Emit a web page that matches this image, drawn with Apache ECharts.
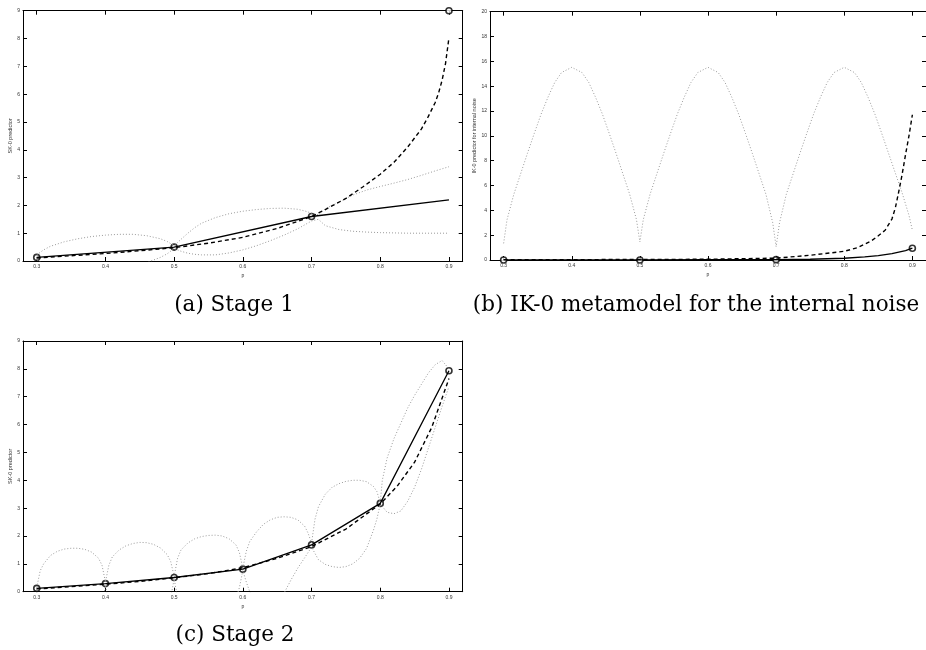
<!DOCTYPE html>
<html>
<head>
<meta charset="utf-8">
<script src="https://cdn.jsdelivr.net/npm/echarts@6/dist/echarts.min.js"></script>
<style>
    html, body { margin: 0; padding: 0; background: #fff; }
    #chart { width: 926px; height: 650px; }
</style>
</head>
<body>
<div id="chart"></div>
<script>
// tick positions shared by all panels
const xTicks = [0.3, 0.4, 0.5, 0.6, 0.7, 0.8, 0.9]

// (a) Stage 1
const xA_pts = [0.3, 0.5, 0.7, 0.9]
const yA_pts = [0.13, 0.5, 1.6, 9.0]
const xA_solid = [0.3, 0.5, 0.7, 0.9]
const yA_solid = [0.13, 0.5, 1.6, 2.2]
const xA_dash = [0.3, 0.35, 0.4, 0.45, 0.5, 0.55, 0.6, 0.65, 0.7, 0.72, 0.75, 0.775, 0.8, 0.82, 0.84, 0.86, 0.87, 0.88, 0.885, 0.89, 0.895, 0.9]
const yA_dash = [0.11, 0.19, 0.27, 0.37, 0.48, 0.64, 0.85, 1.17, 1.6, 1.85, 2.25, 2.67, 3.12, 3.55, 4.1, 4.75, 5.2, 5.7, 6.05, 6.5, 7.1, 8.03]
const xA_band = [0.3, 0.31, 0.32, 0.34, 0.36, 0.38, 0.4, 0.42, 0.44, 0.46, 0.48, 0.49, 0.5, 0.51, 0.52, 0.53, 0.54, 0.56, 0.58, 0.6, 0.62, 0.64, 0.66, 0.68, 0.69, 0.7, 0.71, 0.72, 0.74, 0.76, 0.78, 0.8, 0.82, 0.84, 0.86, 0.88, 0.9]
const yA_upper = [0.22, 0.4, 0.53, 0.69, 0.8, 0.88, 0.93, 0.96, 0.96, 0.91, 0.8, 0.7, 0.55, 0.78, 1.0, 1.2, 1.36, 1.56, 1.7, 1.79, 1.85, 1.89, 1.9, 1.86, 1.8, 1.72, 1.66, 1.88, 2.12, 2.37, 2.55, 2.68, 2.8, 2.93, 3.08, 3.24, 3.39]
const yA_lower = [0.04, -0.08, -0.17, -0.27, -0.32, -0.32, -0.3, -0.26, -0.18, -0.06, 0.13, 0.26, 0.45, 0.35, 0.28, 0.24, 0.22, 0.22, 0.29, 0.4, 0.55, 0.73, 0.93, 1.16, 1.3, 1.44, 1.5, 1.27, 1.13, 1.07, 1.04, 1.02, 1.01, 1.0, 1.0, 1.0, 1.0]

// (b) IK-0 metamodel for the internal noise
const xB_pts = [0.3, 0.5, 0.7, 0.9]
const yB_pts = [0.0, 0.0, 0.03, 0.95]
const xB_solid = [0.3, 0.4, 0.5, 0.6, 0.7, 0.75, 0.8, 0.83, 0.85, 0.87, 0.89, 0.9]
const yB_solid = [0.01, 0.01, 0.01, 0.02, 0.03, 0.06, 0.14, 0.25, 0.36, 0.52, 0.76, 0.95]
const xB_dash = [0.3, 0.4, 0.5, 0.6, 0.7, 0.75, 0.8, 0.82, 0.84, 0.85, 0.86, 0.87, 0.875, 0.88, 0.885, 0.89, 0.895, 0.9]
const yB_dash = [0.03, 0.03, 0.04, 0.06, 0.15, 0.38, 0.7, 1.0, 1.55, 1.95, 2.4, 3.3, 4.2, 5.5, 6.9, 8.5, 10.0, 11.7]
const xB_upper = [0.3, 0.305, 0.315, 0.325, 0.335, 0.345, 0.355, 0.365, 0.375, 0.385, 0.4, 0.415, 0.425, 0.435, 0.445, 0.455, 0.465, 0.475, 0.485, 0.495,
    0.5, 0.505, 0.515, 0.525, 0.535, 0.545, 0.555, 0.565, 0.575, 0.585, 0.6, 0.615, 0.625, 0.635, 0.645, 0.655, 0.665, 0.675, 0.685, 0.695,
    0.7, 0.705, 0.715, 0.725, 0.735, 0.745, 0.755, 0.765, 0.775, 0.785, 0.8, 0.815, 0.825, 0.835, 0.845, 0.855, 0.865, 0.875, 0.885, 0.895, 0.9]
const yB_upper = [1.34, 3.25, 5.3, 6.95, 8.6, 10.2, 11.75, 13.1, 14.3, 15.1, 15.52, 15.1, 14.3, 13.1, 11.75, 10.2, 8.6, 6.95, 5.3, 3.25,
    1.45, 3.25, 5.3, 6.95, 8.6, 10.2, 11.75, 13.1, 14.3, 15.1, 15.52, 15.1, 14.3, 13.1, 11.75, 10.2, 8.6, 6.95, 5.3, 3.0,
    1.07, 3.0, 5.3, 6.95, 8.6, 10.2, 11.75, 13.1, 14.3, 15.1, 15.52, 15.1, 14.3, 13.1, 11.75, 10.2, 8.6, 7.0, 5.4, 3.6, 2.4]

// (c) Stage 2
const xC_pts = [0.3, 0.4, 0.5, 0.6, 0.7, 0.8, 0.9]
const yC_pts = [0.12, 0.29, 0.51, 0.81, 1.68, 3.17, 7.93]
const xC_dash = [0.3, 0.35, 0.4, 0.45, 0.5, 0.55, 0.6, 0.65, 0.7, 0.75, 0.8, 0.825, 0.85, 0.875, 0.9]
const yC_dash = [0.1, 0.18, 0.27, 0.37, 0.5, 0.65, 0.86, 1.2, 1.62, 2.25, 3.15, 3.8, 4.65, 5.9, 7.65]
const xC_upper = [0.3, 0.305, 0.31, 0.32, 0.33, 0.34, 0.35, 0.36, 0.37, 0.38, 0.39, 0.395, 0.4,
    0.405, 0.41, 0.42, 0.43, 0.44, 0.45, 0.46, 0.47, 0.48, 0.49, 0.495, 0.5,
    0.505, 0.51, 0.52, 0.53, 0.54, 0.55, 0.56, 0.57, 0.58, 0.59, 0.595, 0.6,
    0.605, 0.61, 0.62, 0.63, 0.64, 0.65, 0.66, 0.67, 0.68, 0.69, 0.695, 0.7,
    0.705, 0.71, 0.72, 0.73, 0.74, 0.75, 0.76, 0.77, 0.78, 0.79, 0.795, 0.8,
    0.803, 0.81, 0.82, 0.83, 0.84, 0.85, 0.86, 0.87, 0.88, 0.89, 0.9]
const yC_upper = [0.15, 0.75, 1.0, 1.3, 1.45, 1.53, 1.56, 1.56, 1.52, 1.42, 1.2, 0.95, 0.35,
    0.95, 1.25, 1.5, 1.65, 1.73, 1.77, 1.76, 1.7, 1.57, 1.33, 1.08, 0.55,
    1.2, 1.5, 1.75, 1.9, 1.98, 2.02, 2.03, 2.0, 1.9, 1.68, 1.4, 0.85,
    1.45, 1.8, 2.15, 2.42, 2.58, 2.67, 2.69, 2.67, 2.58, 2.35, 2.1, 1.75,
    2.6, 3.05, 3.5, 3.75, 3.88, 3.96, 4.0, 4.0, 3.95, 3.78, 3.6, 3.2,
    4.0, 4.8, 5.5, 6.05, 6.6, 7.05, 7.45, 7.85, 8.15, 8.3, 8.0]
const xC_lower = [0.3, 0.305, 0.31, 0.35, 0.39, 0.395, 0.4,
    0.405, 0.41, 0.45, 0.49, 0.495, 0.5,
    0.505, 0.51, 0.55, 0.59, 0.595, 0.6,
    0.605, 0.61, 0.62, 0.64, 0.655, 0.66, 0.67, 0.68, 0.69, 0.7,
    0.71, 0.72, 0.73, 0.74, 0.75, 0.76, 0.77, 0.78, 0.79, 0.795, 0.8,
    0.81, 0.82, 0.83, 0.84, 0.85, 0.86, 0.87, 0.88, 0.89, 0.9]
const yC_lower = [0.08, -0.5, -0.8, -1.3, -0.8, -0.5, 0.22,
    -0.4, -0.7, -1.2, -0.8, -0.2, 0.45,
    -0.2, -0.5, -1.0, -0.25, 0.15, 0.76,
    0.35, 0.0, -0.45, -0.8, -0.4, -0.05, 0.42, 0.85, 1.22, 1.6,
    1.15, 0.98, 0.9, 0.87, 0.9, 1.0, 1.2, 1.55, 2.2, 2.6, 3.15,
    2.85, 2.8, 2.9, 3.25, 3.75, 4.4, 5.15, 5.9, 6.65, 7.36]

const toPairs = (xs, ys) => xs.map((x, i) => [x, ys[i]])

const tickFont = 'Liberation Sans'
const dotted = {color: '#999', width: 1, type: [1, 2]}
const dashed = {color: '#000', width: 1.4, type: [4, 3]}
const solid = {color: '#000', width: 1.3, type: 'solid'}

function xAxes (g) {
    const base = {
        type: 'value', gridIndex: g, min: 0.28, max: 0.92,
        axisLine: {show: true, onZero: false, lineStyle: {color: '#000', width: 1}},
        axisTick: {inside: true, length: 4, customValues: xTicks, lineStyle: {color: '#000'}},
        splitLine: {show: false}
    }
    return [
        Object.assign({}, base, {
            position: 'bottom',
            axisLabel: {customValues: xTicks, fontSize: 5, fontFamily: tickFont, color: '#333', margin: 3, formatter: v => v.toFixed(1)},
            name: 'p', nameLocation: 'middle', nameGap: 12,
            nameTextStyle: {fontSize: 5, fontFamily: tickFont, color: '#333'}
        }),
        Object.assign({}, base, {position: 'top', axisLabel: {show: false}})
    ]
}

function yAxes (g, max, step, name, gap) {
    const base = {
        type: 'value', gridIndex: g, min: 0, max: max, interval: step,
        axisLine: {show: true, onZero: false, lineStyle: {color: '#000', width: 1}},
        axisTick: {inside: true, length: 4, lineStyle: {color: '#000'}},
        splitLine: {show: false}
    }
    return [
        Object.assign({}, base, {
            position: 'left',
            axisLabel: {fontSize: 5, fontFamily: tickFont, color: '#333', margin: 3},
            name: name, nameLocation: 'middle', nameGap: gap,
            nameTextStyle: {fontSize: 5.5, fontFamily: tickFont, color: '#333'}
        }),
        Object.assign({}, base, {position: 'right', axisLabel: {show: false}})
    ]
}

function line (g, xs, ys, style) {
    return {
        type: 'line', xAxisIndex: g * 2, yAxisIndex: g * 2,
        data: toPairs(xs, ys), symbol: 'none', lineStyle: style, silent: true
    }
}

function marks (g, xs, ys) {
    return {
        type: 'scatter', xAxisIndex: g * 2, yAxisIndex: g * 2,
        data: toPairs(xs, ys), symbol: 'circle', symbolSize: 6, clip: false,
        itemStyle: {color: '#fff', borderColor: '#000', borderWidth: 1.6}, silent: true
    }
}

function caption (text, x, y) {
    return {
        type: 'text', x: x, y: y, silent: true,
        style: {text: text, fontSize: 21.5, fontFamily: 'DejaVu Serif', fill: '#000', align: 'center', verticalAlign: 'middle'}
    }
}

const myChart = echarts.init(document.getElementById('chart'))
myChart.setOption({
    animation: false,
    grid: [
        {left: 23, top: 10.7, width: 439.7, height: 250.3, containLabel: false},
        {left: 490, top: 11.7, width: 436.7, height: 248.3, containLabel: false},
        {left: 23, top: 341, width: 439.7, height: 250.7, containLabel: false}
    ],
    xAxis: [].concat(xAxes(0), xAxes(1), xAxes(2)),
    yAxis: [].concat(
        yAxes(0, 9, 1, 'SK-0 predictor', 9),
        yAxes(1, 20, 2, 'IK-0 predictor for internal noise', 10),
        yAxes(2, 9, 1, 'SK-0 predictor', 9)
    ),
    series: [
        line(0, xA_band, yA_upper, dotted),
        line(0, xA_band, yA_lower, dotted),
        line(0, xA_dash, yA_dash, dashed),
        line(0, xA_solid, yA_solid, solid),
        marks(0, xA_pts, yA_pts),

        line(1, xB_upper, yB_upper, dotted),
        line(1, xB_dash, yB_dash, dashed),
        line(1, xB_solid, yB_solid, solid),
        marks(1, xB_pts, yB_pts),

        line(2, xC_upper, yC_upper, dotted),
        line(2, xC_lower, yC_lower, dotted),
        line(2, xC_dash, yC_dash, dashed),
        line(2, xC_pts, yC_pts, solid),
        marks(2, xC_pts, yC_pts)
    ],
    graphic: [
        caption('(a) Stage 1', 234, 305),
        caption('(b) IK-0 metamodel for the internal noise', 696, 305),
        caption('(c) Stage 2', 235, 635)
    ]
})
</script>
</body>
</html>
